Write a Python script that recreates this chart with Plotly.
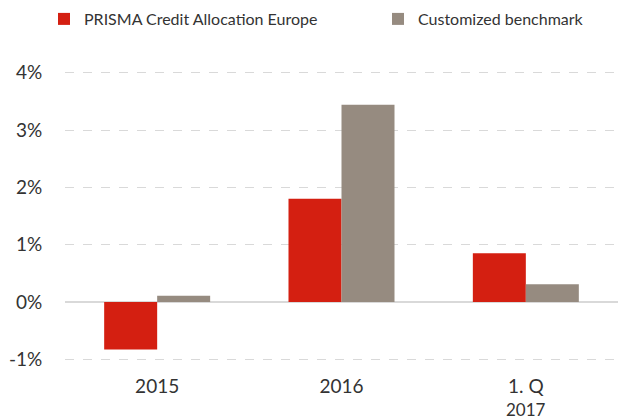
import plotly.graph_objects as go

categories = ["2015", "2016", "1. Q 2017"]
category_labels = ["2015", "2016", "1. Q"]
category_sublabels = ["", "", "2017"]
prisma = [-0.83, 1.80, 0.85]
benchmark = [0.11, 3.44, 0.31]
tick_vals = [-1, 0, 1, 2, 3, 4]
tick_text = ["-1%", "0%", "1%", "2%", "3%", "4%"]

fig = go.Figure()
fig.add_trace(go.Bar(x=categories, y=prisma, name="PRISMA Credit Allocation Europe",
                     marker=dict(color="#D41F11", line=dict(width=0)), legend="legend"))
fig.add_trace(go.Bar(x=categories, y=benchmark, name="Customized benchmark",
                     marker=dict(color="#968B80", line=dict(width=0)), legend="legend2"))

for cat, sub in zip(categories, category_sublabels):
    if sub:
        fig.add_annotation(x=cat, y=0, xref="x", yref="paper", text=sub,
                           showarrow=False, yanchor="middle", yshift=-48,
                           font=dict(size=17, color="#333333"))

font_family = "Lato, 'Open Sans', sans-serif"
leg_common = dict(orientation="h", xref="container", yref="container", xanchor="left",
                  yanchor="middle", y=1 - 19 / 419, font=dict(size=16, color="#333333"),
                  itemwidth=30, bgcolor="rgba(0,0,0,0)")
fig.update_layout(
    width=630, height=419,
    margin=dict(l=65, r=12, t=71, b=58),
    paper_bgcolor="white", plot_bgcolor="white",
    barmode="group", bargap=0.425, bargroupgap=0,
    font=dict(family=font_family, size=17, color="#333333"),
    showlegend=True,
    legend=dict(x=44 / 630, **leg_common),
    legend2=dict(x=378 / 630, **leg_common),
    xaxis=dict(showgrid=False, showline=False, ticks="outside", ticklen=8,
               tickcolor="rgba(0,0,0,0)", tickvals=categories, ticktext=category_labels,
               tickfont=dict(size=19), automargin=False),
    yaxis=dict(range=[-1.03, 4.03], tickvals=tick_vals, ticktext=tick_text,
               showgrid=True, gridcolor="#D9D9D9", griddash="dash", gridwidth=1,
               zeroline=True, zerolinecolor="#D9D9D9", zerolinewidth=2,
               showline=False, ticks="outside", ticklen=18, tickcolor="rgba(0,0,0,0)",
               tickfont=dict(size=19), automargin=False),
)

fig.write_html("out.html", post_script="document.body.style.margin='0';",
               config={"displayModeBar": False})
